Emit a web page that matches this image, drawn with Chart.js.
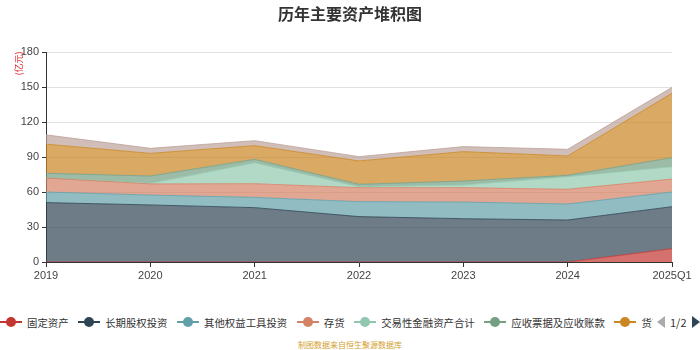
<!DOCTYPE html>
<html>
<head>
<meta charset="utf-8">
<script src="https://cdn.jsdelivr.net/npm/chart.js@4/dist/chart.umd.min.js"></script>
<style>
  body { margin: 0; background: #fff; font-family: "Noto Sans CJK SC", "Noto Sans", sans-serif; }
  #wrap { position: relative; width: 700px; height: 350px; overflow: hidden; }
  #chartBox { position: absolute; left: 0; top: 0; width: 700px; height: 290px; }
  #title { position: absolute; top: 1px; width: 700px; text-align: center; font-size: 16px; font-weight: bold; color: #333; }
  #unit { position: absolute; left: 6px; top: 57px; font-size: 9px; color: #e03030; transform: rotate(-90deg); transform-origin: center; }
  #legend { position: absolute; left: 0; top: 313px; width: 653px; height: 18px; overflow: hidden; white-space: nowrap; display: flex; align-items: center; font-size: 10.4px; color: #333; }
  .item { display: flex; align-items: center; margin-right: 9.6px; flex: none; }
  .mk { position: relative; width: 22px; height: 10px; margin-right: 5px; }
  .mk .ln { position: absolute; left: 0; top: 4px; width: 22px; height: 2px; }
  .mk .dot { position: absolute; left: 6px; top: 0; width: 10px; height: 10px; border-radius: 50%; }
  #pager { position: absolute; left: 657px; top: 313px; height: 18px; display: flex; align-items: center; font-size: 11px; color: #333; }
  .tri-l { width: 0; height: 0; border-top: 6px solid transparent; border-bottom: 6px solid transparent; border-right: 8px solid #aaa; margin-right: 5px; }
  .tri-r { width: 0; height: 0; border-top: 6px solid transparent; border-bottom: 6px solid transparent; border-left: 8px solid #2f4554; margin-left: 5px; }
  #foot { position: absolute; top: 339px; width: 700px; text-align: center; font-size: 8px; color: #d4a030; }
</style>
</head>
<body>
<div id="wrap">
  <div id="chartBox"><canvas id="c"></canvas></div>
  <div id="title">历年主要资产堆积图</div>
  <div id="unit">(亿元)</div>
  <div id="legend"></div>
  <div id="pager"><div class="tri-l"></div>1/2<div class="tri-r"></div></div>
  <div id="foot">制图数据来自恒生聚源数据库</div>
</div>
<script>
const years = ['2019', '2020', '2021', '2022', '2023', '2024', '2025Q1'];
const names = ['固定资产', '长期股权投资', '其他权益工具投资', '存货', '交易性金融资产合计', '应收票据及应收账款', '货币资金', '无形资产'];
const colors = ['#c23531', '#2f4554', '#61a0a8', '#d48265', '#91c7ae', '#749f83', '#ca8622', '#bda29a'];

const fixedAssets = [0, 0, 0, 0, 0, 0, 11.4];
const equityInvest = [50.9, 48.9, 46.6, 38.9, 37.1, 36.0, 36.0];
const otherEquity = [9.1, 8.5, 8.8, 12.8, 14.3, 13.7, 12.6];
const inventory = [12.0, 9.5, 11.7, 12.0, 12.3, 12.6, 11.1];
const tradingAssets = [0, 0.5, 18.0, 0.9, 2.3, 10.8, 10.6];
const receivables = [4.0, 6.3, 2.9, 2.0, 3.4, 1.2, 7.7];
const cash = [25.0, 19.4, 11.7, 20.0, 25.2, 16.6, 55.2];
const intangible = [8.0, 4.3, 4.3, 3.7, 4.3, 5.7, 5.1];

const series = [fixedAssets, equityInvest, otherEquity, inventory, tradingAssets, receivables, cash, intangible];

const datasets = series.map((d, i) => ({
  label: names[i],
  data: d,
  borderColor: colors[i] + 'cc',
  backgroundColor: colors[i] + 'b3',
  borderWidth: 1,
  pointRadius: 0,
  fill: i === 0 ? 'origin' : '-1',
  tension: 0
}));

new Chart(document.getElementById('c'), {
  type: 'line',
  data: { labels: years, datasets: datasets },
  options: {
    responsive: true,
    maintainAspectRatio: false,
    animation: false,
    layout: { padding: { top: 52, right: 28, left: 0, bottom: 0 } },
    plugins: { legend: { display: false }, tooltip: { enabled: false } },
    scales: {
      x: {
        offset: false,
        grid: { drawOnChartArea: false, tickColor: '#333', tickLength: 5 },
        border: { color: '#333' },
        ticks: { color: '#444', font: { size: 11 }, padding: 2, maxRotation: 0 },
        afterFit: s => { s.height = 28; }
      },
      y: {
        stacked: true,
        min: 0,
        max: 180,
        ticks: { stepSize: 30, color: '#444', font: { size: 11 }, padding: 3 },
        grid: { color: '#e0e0e0', tickColor: '#333', tickLength: 4 },
        border: { color: '#333' },
        afterFit: s => { s.width = 46; }
      }
    }
  }
});

const lg = document.getElementById('legend');
names.slice(0, 7).forEach((n, i) => {
  const it = document.createElement('div');
  it.className = 'item';
  it.innerHTML = '<span class="mk"><span class="ln" style="background:' + colors[i] + '"></span><span class="dot" style="background:' + colors[i] + '"></span></span><span>' + n + '</span>';
  lg.appendChild(it);
});
</script>
</body>
</html>
